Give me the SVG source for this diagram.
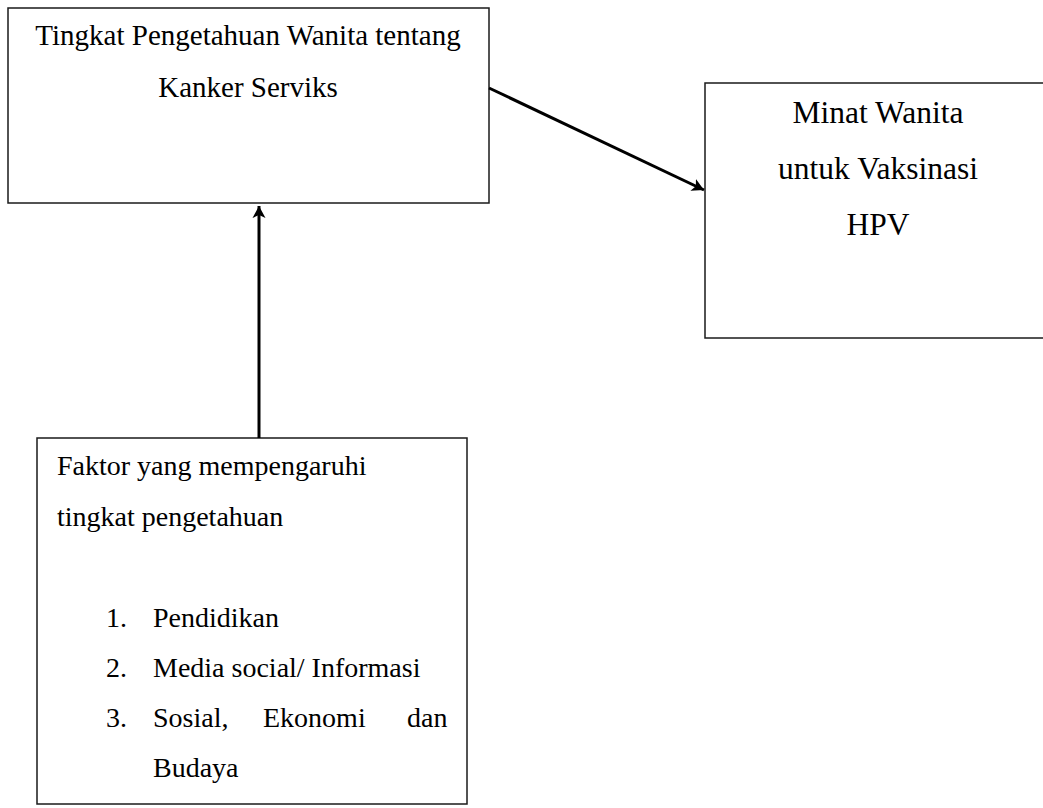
<svg xmlns="http://www.w3.org/2000/svg" width="1043" height="808" viewBox="0 0 1043 808">
  <style>
    .box { fill: #ffffff; stroke: #1a1a1a; stroke-width: 1.5; }
    .t { font-family: "Liberation Serif", "Times New Roman", serif; fill: #000000; }
    .conn { stroke: #000000; stroke-width: 3; fill: none; }
  </style>
  <defs>
    <marker id="arrow" markerUnits="userSpaceOnUse" markerWidth="16" markerHeight="16" viewBox="0 0 16 16" refX="12" refY="8" orient="auto">
      <path d="M0,1.5 L12,8 L0,14.5 L3,8 Z" fill="#000000"/>
    </marker>
  </defs>
  <rect width="1043" height="808" fill="#ffffff"/>

  <g id="node-pengetahuan">
    <rect class="box" x="8" y="8" width="481" height="195"/>
    <text class="t" font-size="29" text-anchor="middle" x="248" y="45">Tingkat Pengetahuan Wanita tentang</text>
    <text class="t" font-size="29" text-anchor="middle" x="248" y="97">Kanker Serviks</text>
  </g>

  <g id="node-minat">
    <rect class="box" x="705" y="83" width="345" height="255"/>
    <text class="t" font-size="31.5" text-anchor="middle" x="878" y="123">Minat Wanita</text>
    <text class="t" font-size="31.5" text-anchor="middle" x="878" y="179">untuk Vaksinasi</text>
    <text class="t" font-size="31.5" text-anchor="middle" x="878" y="235">HPV</text>
  </g>

  <g id="node-faktor">
    <rect class="box" x="37" y="438" width="430" height="366"/>
    <text class="t" font-size="28" x="57" y="475">Faktor yang mempengaruhi</text>
    <text class="t" font-size="28" x="57" y="526">tingkat pengetahuan</text>
    <text class="t" font-size="28" y="627"><tspan x="106">1.</tspan><tspan x="153">Pendidikan</tspan></text>
    <text class="t" font-size="28" y="677"><tspan x="106">2.</tspan><tspan x="153">Media social/ Informasi</tspan></text>
    <text class="t" font-size="28" y="727"><tspan x="106">3.</tspan><tspan x="153">Sosial,</tspan><tspan x="263">Ekonomi</tspan><tspan x="407">dan</tspan></text>
    <text class="t" font-size="28" x="153" y="777">Budaya</text>
  </g>

  <g id="connectors">
    <line class="conn" x1="489" y1="88" x2="704" y2="190" marker-end="url(#arrow)"/>
    <line class="conn" x1="259" y1="438" x2="259" y2="206" marker-end="url(#arrow)"/>
  </g>
</svg>
